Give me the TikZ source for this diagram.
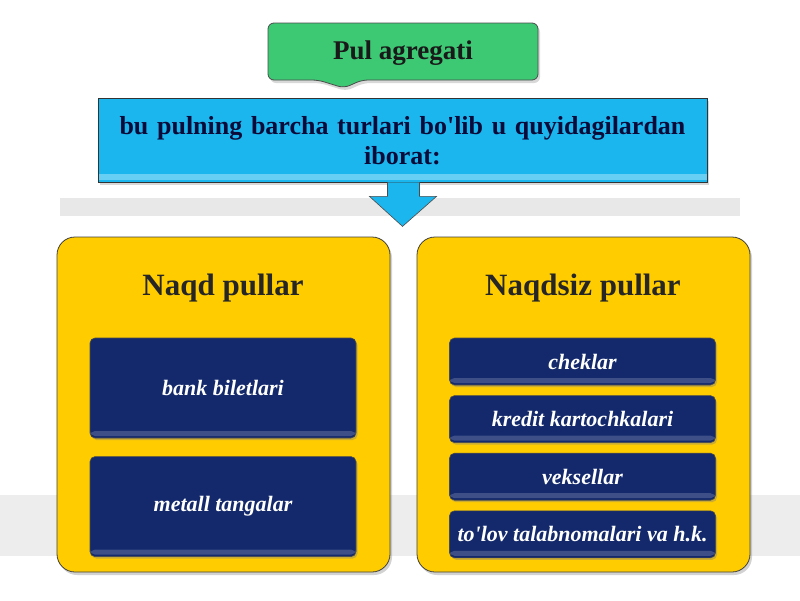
\documentclass[tikz,border=0pt]{standalone}
\usepackage{fontspec}
\setmainfont{Liberation Serif}
\usetikzlibrary{positioning, shadows, calc}
\definecolor{aggreen}{HTML}{3DC874}
\definecolor{agblue}{HTML}{1CB6EE}
\definecolor{agyellow}{HTML}{FFCC00}
\definecolor{agnavy}{HTML}{13296C}
\definecolor{agtext}{HTML}{0B0B3A}

\begin{document}
\begin{tikzpicture}[x=1pt, y=-1pt,
    outerbox/.style={draw=black!75, line width=0.8pt, fill=agyellow, rounded corners=18pt,
        minimum width=333pt, minimum height=335pt, inner sep=0pt,
        drop shadow={shadow xshift=2pt, shadow yshift=-3pt, opacity=0.35}},
    titletext/.style={font=\fontsize{31}{35}\selectfont\bfseries, text=black!85},
    itembox/.style={draw=black!70, line width=0.6pt, fill=agnavy, rounded corners=5pt,
        minimum width=266pt, inner sep=0pt, text=white,
        font=\fontsize{22}{25}\selectfont\bfseries\itshape,
        drop shadow={shadow xshift=1.5pt, shadow yshift=-2pt, opacity=0.4},
        path picture={\fill[white, opacity=0.18]
            ([yshift=2pt]path picture bounding box.south west)
            rectangle ([yshift=7pt]path picture bounding box.south east);}},
    bigitem/.style={itembox, minimum height=100pt},
    smallitem/.style={itembox, minimum height=47pt}]

    % Background and bands
    \useasboundingbox (0,0) rectangle (800,600);
    \fill[white] (0,0) rectangle (800,600);
    \fill[black!9] (60,198) rectangle (740,216);
    \fill[black!7] (0,495) rectangle (800,556);

    % Header
    \draw[draw=black!70, line width=0.8pt, fill=aggreen, rounded corners=6pt,
        drop shadow={shadow xshift=2pt, shadow yshift=-3pt, opacity=0.3}]
        (268,23) -- (538,23) -- (538,80) -- (362,80) -- (344,88) -- (318,80)
        -- (268,80) -- cycle;
    \node[font=\fontsize{27}{30}\selectfont\bfseries, text=black!90] (pul) at (403,53) {Pul agregati};

    % Definition box
    \node[draw=black!80, line width=0.8pt, fill=agblue, minimum width=609pt, minimum height=84pt,
        inner sep=0pt, drop shadow={shadow xshift=2pt, shadow yshift=-3pt, opacity=0.3},
        path picture={\fill[cyan!40, opacity=0.6]
            ([yshift=2pt]path picture bounding box.south west)
            rectangle ([yshift=8pt]path picture bounding box.south east);}]
        (def) at (402.5,140) {};
    \node[align=center, text width=600pt, text=agtext,
        font=\fontsize{26}{30}\selectfont\bfseries] (deftext) at (402.5,141)
        {bu pulning barcha turlari bo\textquotesingle lib u quyidagilardan\\iborat:};

    % Down arrow
    \draw[draw=black!70, line width=0.6pt, fill=agblue]
        ($(def.south)+(-15,0)$) -- ($(def.south)+(-15,14)$) -- ($(def.south)+(-33,14)$)
        -- ($(def.south)+(0,44)$) -- ($(def.south)+(34,14)$) -- ($(def.south)+(17,14)$)
        -- ($(def.south)+(17,0)$);

    % Naqd pullar
    \node[outerbox] (naqd) at (223.5,404.5) {};
    \node[titletext] (naqdtitle) at (223,288) {Naqd pullar};
    \node[bigitem] (bank) at (223,388) {bank biletlari};
    \node[bigitem, below=18pt of bank] (metall) {metall tangalar};

    % Naqdsiz pullar
    \node[outerbox] (naqdsiz) at (583.5,404.5) {};
    \node[titletext] (naqdsiztitle) at (583,288) {Naqdsiz pullar};
    \node[smallitem] (cheklar) at (582.5,361.5) {cheklar};
    \node[smallitem, below=10pt of cheklar] (kredit) {kredit kartochkalari};
    \node[smallitem, below=10pt of kredit] (veksel) {veksellar};
    \node[smallitem, below=10pt of veksel] (tolov) {to\textquotesingle lov talabnomalari va h.k.};

\end{tikzpicture}
\end{document}
